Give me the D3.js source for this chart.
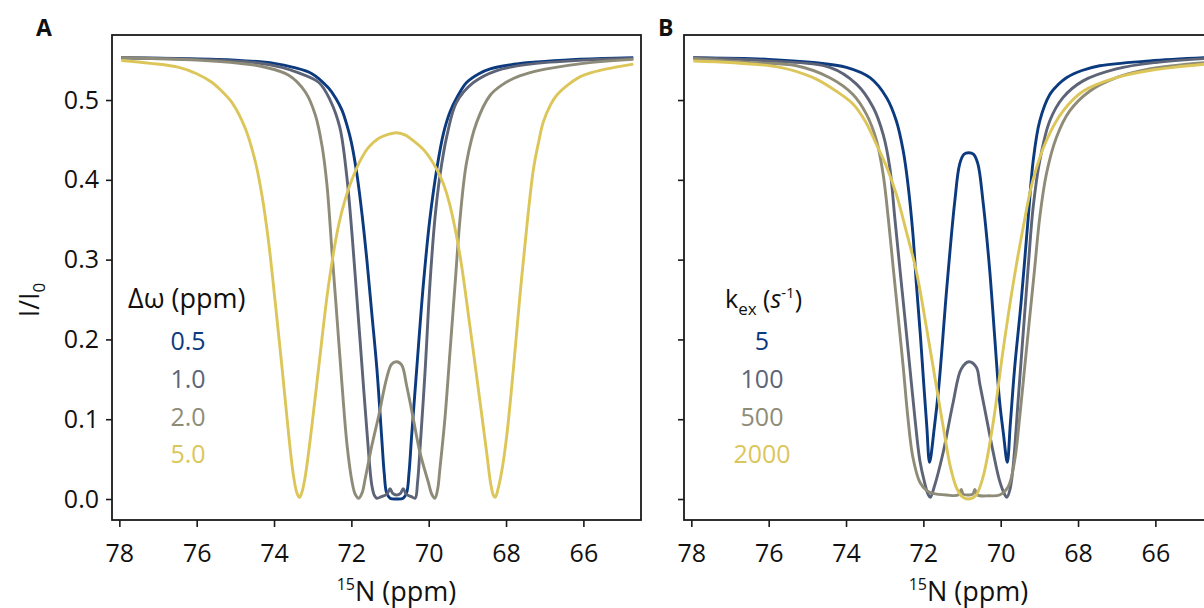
<!DOCTYPE html>
<html>
<head>
<meta charset="utf-8">
<script src="https://cdn.jsdelivr.net/npm/d3@7"></script>
<style>
  html, body { margin: 0; padding: 0; background: #fff; }
  svg { display: block; font-family: "Open Sans", "Noto Sans", sans-serif; }
</style>
</head>
<body>
<div id="chart"></div>
<script>
// CEST profiles, values: [15N ppm, I/I0]
const ppmTicks = [78, 76, 74, 72, 70, 68, 66];
const intensityTicks = [0, 0.1, 0.2, 0.3, 0.4, 0.5];

const dwLabels = ['0.5', '1.0', '2.0', '5.0'];
const kexLabels = ['5', '100', '500', '2000'];
const colors = ['#0c3a7f', '#5d6477', '#8e8c78', '#dcc65a'];

// panel A: varying chemical shift difference
const dw05 = [[77.95,0.553],[76.5,0.552],[75.0,0.550],[74.0,0.546],[73.5,0.541],[73.02,0.533],[72.59,0.515],
  [72.4,0.502],[72.24,0.487],[72.1,0.466],[72.0,0.447],[71.85,0.405],[71.72,0.355],[71.59,0.295],[71.47,0.232],
  [71.34,0.163],[71.22,0.080],[71.15,0.032],[71.09,0.008],[71.0,0.001],[70.83,0.0],[70.66,0.001],[70.57,0.008],
  [70.51,0.032],[70.44,0.080],[70.31,0.163],[70.14,0.268],[69.97,0.351],[69.79,0.414],[69.62,0.458],[69.45,0.485],
  [69.25,0.505],[69.02,0.522],[68.7,0.533],[68.41,0.539],[67.9,0.544],[67.38,0.547],[66.5,0.550],[65.5,0.552],[64.71,0.553]];
const dw10 = [[77.95,0.553],[76.0,0.551],[74.5,0.547],[73.8,0.541],[73.36,0.534],[72.84,0.522],[72.55,0.500],
  [72.3,0.466],[72.12,0.405],[71.98,0.330],[71.85,0.247],[71.72,0.163],[71.59,0.080],[71.47,0.017],[71.40,0.004],
  [71.34,0.001],[71.22,0.003],[71.08,0.006],[71.0,0.013],[70.93,0.007],[70.83,0.005],[70.73,0.007],[70.66,0.013],
  [70.58,0.006],[70.45,0.003],[70.35,0.001],[70.29,0.020],[70.23,0.059],[70.09,0.163],[69.97,0.268],[69.84,0.351],
  [69.71,0.405],[69.53,0.455],[69.28,0.497],[68.84,0.522],[68.24,0.537],[67.38,0.545],[66.0,0.550],[64.71,0.552]];
const dw20 = [[77.95,0.553],[76.0,0.550],[74.9,0.546],[74.31,0.542],[73.62,0.531],[73.19,0.510],[72.93,0.481],
  [72.76,0.443],[72.63,0.393],[72.5,0.309],[72.37,0.226],[72.24,0.142],[72.11,0.067],[71.98,0.021],[71.9,0.006],
  [71.81,0.001],[71.72,0.008],[71.64,0.026],[71.47,0.067],[71.29,0.105],[71.09,0.151],[70.96,0.169],[70.83,0.172],
  [70.70,0.168],[70.57,0.142],[70.40,0.101],[70.23,0.059],[70.01,0.021],[69.92,0.006],[69.84,0.001],[69.77,0.012],
  [69.71,0.038],[69.58,0.101],[69.45,0.184],[69.32,0.268],[69.19,0.351],[69.02,0.422],[68.76,0.472],[68.41,0.506],
  [68.1,0.519],[67.81,0.527],[67.4,0.534],[66.95,0.539],[66.0,0.546],[64.71,0.551]];
const dw50 = [[77.95,0.5495],[77.2,0.546],[76.46,0.541],[76.0,0.533],[75.6,0.522],[75.35,0.511],[75.09,0.497],
  [74.74,0.464],[74.48,0.422],[74.31,0.380],[74.14,0.322],[73.97,0.247],[73.79,0.163],[73.62,0.080],[73.50,0.030],
  [73.41,0.008],[73.34,0.002],[73.27,0.010],[73.19,0.029],[73.02,0.092],[72.84,0.167],[72.59,0.268],[72.33,0.343],
  [72.15,0.377],[71.98,0.401],[71.75,0.426],[71.55,0.441],[71.29,0.452],[71.05,0.457],[70.83,0.459],[70.6,0.456],
  [70.4,0.449],[70.1,0.436],[69.79,0.413],[69.62,0.395],[69.45,0.368],[69.19,0.305],[68.93,0.215],[68.67,0.121],
  [68.50,0.058],[68.40,0.020],[68.33,0.005],[68.28,0.002],[68.21,0.012],[68.10,0.038],[67.98,0.080],[67.81,0.163],
  [67.64,0.255],[67.46,0.343],[67.29,0.414],[67.15,0.449],[67.04,0.472],[66.85,0.494],[66.69,0.506],[66.4,0.519],
  [66.09,0.529],[65.75,0.535],[65.40,0.539],[64.71,0.545]];

// panel B: varying exchange rate
const kex5 = [[77.95,0.553],[76.0,0.551],[74.85,0.547],[73.99,0.541],[73.38,0.528],[72.95,0.503],[72.70,0.474],
  [72.52,0.436],[72.40,0.395],[72.27,0.332],[72.18,0.269],[72.08,0.207],[71.99,0.144],[71.91,0.090],[71.84,0.046],
  [71.72,0.088],[71.60,0.141],[71.39,0.267],[71.19,0.372],[71.06,0.420],[70.95,0.432],[70.83,0.434],[70.70,0.432],
  [70.59,0.420],[70.46,0.374],[70.29,0.290],[70.16,0.206],[70.03,0.123],[69.93,0.082],[69.83,0.046],[69.75,0.095],
  [69.64,0.164],[69.47,0.248],[69.29,0.352],[69.16,0.424],[68.99,0.474],[68.73,0.507],[68.5,0.520],[68.30,0.528],
  [67.9,0.537],[67.44,0.543],[66.15,0.549],[64.7,0.553]];
const kex100 = [[77.95,0.553],[76.0,0.549],[74.42,0.541],[73.73,0.520],[73.30,0.491],[73.04,0.457],[72.87,0.416],
  [72.74,0.353],[72.61,0.290],[72.48,0.228],[72.35,0.165],[72.22,0.102],[72.09,0.048],[71.96,0.019],[71.88,0.006],
  [71.82,0.002],[71.72,0.015],[71.49,0.058],[71.23,0.121],[71.02,0.163],[70.82,0.172],[70.63,0.165],[70.54,0.144],
  [70.37,0.102],[70.20,0.060],[70.03,0.023],[69.90,0.006],[69.84,0.002],[69.76,0.012],[69.68,0.040],[69.55,0.123],
  [69.42,0.207],[69.29,0.290],[69.16,0.366],[68.99,0.424],[68.73,0.474],[68.39,0.503],[67.87,0.524],[67.01,0.539],
  [66.0,0.547],[64.7,0.552]];
const kex500 = [[77.95,0.552],[76.5,0.547],[75.28,0.543],[74.42,0.528],[73.82,0.507],[73.47,0.482],[73.21,0.449],
  [73.04,0.407],[72.91,0.353],[72.78,0.290],[72.65,0.228],[72.52,0.165],[72.40,0.102],[72.27,0.052],[72.09,0.021],
  [71.9,0.010],[71.75,0.007],[71.4,0.005],[71.1,0.005],[71.02,0.012],[70.97,0.006],[70.83,0.005],[70.72,0.006],
  [70.67,0.012],[70.6,0.005],[70.3,0.004],[70.03,0.005],[69.81,0.015],[69.64,0.048],[69.51,0.102],[69.38,0.165],
  [69.25,0.228],[69.12,0.290],[68.99,0.353],[68.82,0.407],[68.56,0.453],[68.22,0.486],[67.70,0.511],[67.01,0.528],
  [66.15,0.539],[64.7,0.547]];
const kex2000 = [[77.95,0.549],[75.71,0.541],[74.85,0.528],[74.25,0.511],[73.82,0.495],[73.51,0.474],[73.21,0.444],
  [72.95,0.416],[72.70,0.382],[72.44,0.335],[72.18,0.285],[71.92,0.215],[71.66,0.140],[71.45,0.080],[71.3,0.040],
  [71.15,0.015],[71.0,0.003],[70.83,0.0],[70.65,0.004],[70.46,0.027],[70.20,0.094],[69.94,0.186],[69.68,0.269],
  [69.42,0.340],[69.17,0.399],[68.82,0.449],[68.39,0.486],[67.87,0.511],[67.01,0.528],[66.15,0.537],[64.7,0.545]];

const width = 1204, height = 608;
const plotW = 529, plotTop = 35, plotBottom = 520;

const svg = d3.select('#chart').append('svg')
  .attr('width', width)
  .attr('height', height);

// y axis shared by both panels
const y = d3.scaleLinear().domain([-0.0263, 0.5815]).range([plotBottom, plotTop]);

function drawPanel(left, series, opts) {
  const x = d3.scaleLinear().domain([78.19, 64.51]).range([left, left + plotW]);
  const g = svg.append('g');

  const line = d3.line()
    .x(d => x(d[0]))
    .y(d => y(d[1]))
    .curve(d3.curveCatmullRom.alpha(0.5));

  series.forEach((s, i) => {
    g.append('path')
      .datum(s)
      .attr('d', line)
      .attr('fill', 'none')
      .attr('stroke', colors[i])
      .attr('stroke-width', 2.9)
      .attr('stroke-linejoin', 'round');
  });

  // frame
  g.append('rect')
    .attr('x', left).attr('y', plotTop)
    .attr('width', plotW).attr('height', plotBottom - plotTop)
    .attr('fill', 'none')
    .attr('stroke', '#1a1a1a')
    .attr('stroke-width', 1.8);

  const xAxis = g.append('g')
    .attr('transform', `translate(0,${plotBottom})`)
    .call(d3.axisBottom(x).tickValues(ppmTicks).tickSize(7).tickPadding(17).tickFormat(d3.format('d')));

  const yAxis = g.append('g')
    .attr('transform', `translate(${left},0)`)
    .call(d3.axisLeft(y).tickValues(intensityTicks).tickSize(6).tickPadding(7)
      .tickFormat(opts.yLabels ? d3.format('.1f') : ''));

  [xAxis, yAxis].forEach(ax => {
    ax.select('.domain').remove();
    ax.selectAll('line').attr('stroke', '#1a1a1a').attr('stroke-width', 1.6);
    ax.selectAll('text')
      .attr('fill', '#111')
      .style('font-size', '25px')
      .style('font-family', '"Open Sans", sans-serif');
  });

  // x axis title
  const xt = g.append('text')
    .attr('x', left + plotW / 2 + 20)
    .attr('y', 601)
    .attr('text-anchor', 'middle')
    .style('font-size', '27px')
    .attr('fill', '#111');
  xt.append('tspan').text('15').style('font-size', '16px').attr('dy', -11);
  xt.append('tspan').text('N (ppm)').attr('dy', 11);

  // panel letter
  g.append('text')
    .attr('x', opts.letterX)
    .attr('y', 36)
    .style('font-size', '23px')
    .style('font-weight', 'bold')
    .attr('fill', '#111')
    .text(opts.letter);

  // legend: title plus coloured values
  opts.legendTitle(g.append('text')
    .attr('x', opts.legendX)
    .attr('y', 308)
    .style('font-size', opts.legendTitleSize)
    .attr('fill', '#111'));

  g.selectAll('.legend-val')
    .data(opts.legendLabels)
    .enter()
    .append('text')
    .attr('class', 'legend-val')
    .attr('x', opts.legendValX)
    .attr('y', (d, i) => 350 + i * 37.8)
    .attr('text-anchor', 'middle')
    .style('font-size', '25px')
    .attr('fill', (d, i) => colors[i])
    .text(d => d);
}

drawPanel(112, [dw05, dw10, dw20, dw50], {
  yLabels: true,
  letter: 'A',
  letterX: 36,
  legendX: 128,
  legendValX: 188,
  legendLabels: dwLabels,
  legendTitleSize: '27px',
  legendTitle: t => t.text('\u0394\u03c9 (ppm)')
});

drawPanel(684, [kex5, kex100, kex500, kex2000], {
  yLabels: false,
  letter: 'B',
  letterX: 658,
  legendX: 725,
  legendValX: 762,
  legendLabels: kexLabels,
  legendTitleSize: '25px',
  legendTitle: t => {
    t.append('tspan').text('k');
    t.append('tspan').text('ex').style('font-size', '17px').attr('dy', 7);
    t.append('tspan').text(' (').attr('dy', -7);
    t.append('tspan').text('s').style('font-style', 'italic');
    t.append('tspan').text('-1').style('font-size', '15px').attr('dy', -10);
    t.append('tspan').text(')').attr('dy', 10);
  }
});

// y axis title
const yt = svg.append('text')
  .attr('transform', 'translate(39,300) rotate(-90)')
  .attr('text-anchor', 'middle')
  .style('font-size', '27px')
  .attr('fill', '#111');
yt.append('tspan').text('I/I');
yt.append('tspan').text('0').style('font-size', '17px').attr('dy', 6);
</script>
</body>
</html>
